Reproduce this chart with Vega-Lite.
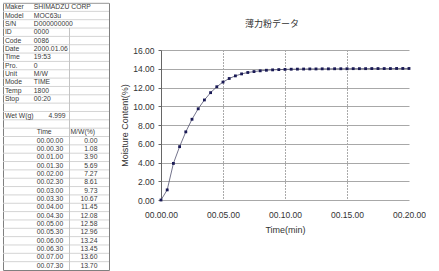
{
  "$schema": "https://vega.github.io/schema/vega-lite/v6.json",
  "background": "white",
  "padding": {"left": 2, "top": 2, "right": 0, "bottom": 0},
  "spacing": 10,
  "config": {"font": "Liberation Sans", "view": {"stroke": null}},
  "hconcat": [
    {
      "width": 106,
      "height": 267,
      "view": {"stroke": "#808080", "strokeWidth": 1},
      "data": {"values": [
        {"row": 1, "a": "Maker", "b": "SHIMADZU CORP"},
        {"row": 2, "a": "Model", "b": "MOC63u"},
        {"row": 3, "a": "S/N", "b": "D000000000"},
        {"row": 4, "a": "ID", "b": "0000"},
        {"row": 5, "a": "Code", "b": "0086"},
        {"row": 6, "a": "Date", "b": "2000.01.06"},
        {"row": 7, "a": "Time", "b": "19:53"},
        {"row": 8, "a": "Pro.", "b": "0"},
        {"row": 9, "a": "Unit", "b": "M/W"},
        {"row": 10, "a": "Mode", "b": "TIME"},
        {"row": 11, "a": "Temp", "b": "1800"},
        {"row": 12, "a": "Stop", "b": "00:20"},
        {"row": 13},
        {"row": 14, "a": "Wet W(g)", "w": "4.999"},
        {"row": 15},
        {"row": 16, "t": "Time", "h": "M/W(%)"},
        {"row": 17, "t": "00.00.00", "m": "0.00"},
        {"row": 18, "t": "00.00.30", "m": "1.08"},
        {"row": 19, "t": "00.01.00", "m": "3.90"},
        {"row": 20, "t": "00.01.30", "m": "5.69"},
        {"row": 21, "t": "00.02.00", "m": "7.27"},
        {"row": 22, "t": "00.02.30", "m": "8.61"},
        {"row": 23, "t": "00.03.00", "m": "9.73"},
        {"row": 24, "t": "00.03.30", "m": "10.67"},
        {"row": 25, "t": "00.04.00", "m": "11.45"},
        {"row": 26, "t": "00.04.30", "m": "12.08"},
        {"row": 27, "t": "00.05.00", "m": "12.58"},
        {"row": 28, "t": "00.05.30", "m": "12.96"},
        {"row": 29, "t": "00.06.00", "m": "13.24"},
        {"row": 30, "t": "00.06.30", "m": "13.45"},
        {"row": 31, "t": "00.07.00", "m": "13.60"},
        {"row": 32, "t": "00.07.30", "m": "13.70"}
      ]},
      "layer": [
        {
          "mark": {"type": "rule", "color": "#d4d4d4", "strokeWidth": 1},
          "encoding": {
            "y": {"field": "row", "type": "ordinal", "bandPosition": 0, "scale": {"type": "band", "domain": [1,2,3,4,5,6,7,8,9,10,11,12,13,14,15,16,17,18,19,20,21,22,23,24,25,26,27,28,29,30,31,32], "paddingInner": 0, "paddingOuter": 0}, "axis": null}
          }
        },
        {
          "transform": [{"filter": "datum.row >= 4"}],
          "mark": {"type": "rect", "stroke": "#c4c4c4", "strokeWidth": 1, "fill": null},
          "encoding": {
            "x": {"datum": 69, "type": "quantitative", "scale": {"domain": [0, 106]}, "axis": null},
            "x2": {"datum": 69},
            "y": {"field": "row", "type": "ordinal", "axis": null}
          }
        },
        {
          "transform": [{"filter": "datum.a"}],
          "mark": {"type": "text", "align": "left", "baseline": "middle", "fontSize": 6.8, "color": "#3a3a3a"},
          "encoding": {
            "x": {"datum": 2, "type": "quantitative"},
            "y": {"field": "row", "type": "ordinal", "axis": null},
            "text": {"field": "a"}
          }
        },
        {
          "transform": [{"filter": "datum.b"}],
          "mark": {"type": "text", "align": "left", "baseline": "middle", "fontSize": 6.8, "color": "#3a3a3a"},
          "encoding": {
            "x": {"datum": 32, "type": "quantitative"},
            "y": {"field": "row", "type": "ordinal", "axis": null},
            "text": {"field": "b"}
          }
        },
        {
          "transform": [{"filter": "datum.w"}],
          "mark": {"type": "text", "align": "right", "baseline": "middle", "fontSize": 6.8, "color": "#3a3a3a"},
          "encoding": {
            "x": {"datum": 65, "type": "quantitative"},
            "y": {"field": "row", "type": "ordinal", "axis": null},
            "text": {"field": "w"}
          }
        },
        {
          "transform": [{"filter": "datum.t"}],
          "mark": {"type": "text", "align": "left", "baseline": "middle", "fontSize": 6.8, "color": "#3a3a3a"},
          "encoding": {
            "x": {"datum": 35, "type": "quantitative"},
            "y": {"field": "row", "type": "ordinal", "axis": null},
            "text": {"field": "t"}
          }
        },
        {
          "transform": [{"filter": "datum.h"}],
          "mark": {"type": "text", "align": "left", "baseline": "middle", "fontSize": 6.8, "color": "#3a3a3a"},
          "encoding": {
            "x": {"datum": 70, "type": "quantitative"},
            "y": {"field": "row", "type": "ordinal", "axis": null},
            "text": {"field": "h"}
          }
        },
        {
          "transform": [{"filter": "datum.m"}],
          "mark": {"type": "text", "align": "right", "baseline": "middle", "fontSize": 6.8, "color": "#3a3a3a"},
          "encoding": {
            "x": {"datum": 98, "type": "quantitative"},
            "y": {"field": "row", "type": "ordinal", "axis": null},
            "text": {"field": "m"}
          }
        }
      ]
    },
    {
      "spacing": 1,
      "bounds": "flush",
      "vconcat": [
        {
          "width": 248,
          "height": 46,
          "view": {"stroke": null},
          "data": {"values": [{"title": "薄力粉データ"}]},
          "mark": {"type": "text", "font": "Noto Sans CJK JP", "fontSize": 9, "color": "#333", "dx": -13, "dy": -2, "baseline": "middle", "align": "center"},
          "encoding": {"text": {"field": "title"}}
        },
        {
          "width": 248,
          "height": 150,
          "view": {"stroke": null},
          "data": {"values": [
            {"min": 0, "mc": 0.00}, {"min": 0.5, "mc": 1.08}, {"min": 1, "mc": 3.90}, {"min": 1.5, "mc": 5.69},
            {"min": 2, "mc": 7.27}, {"min": 2.5, "mc": 8.61}, {"min": 3, "mc": 9.73}, {"min": 3.5, "mc": 10.67},
            {"min": 4, "mc": 11.45}, {"min": 4.5, "mc": 12.08}, {"min": 5, "mc": 12.58}, {"min": 5.5, "mc": 12.96},
            {"min": 6, "mc": 13.24}, {"min": 6.5, "mc": 13.45}, {"min": 7, "mc": 13.60}, {"min": 7.5, "mc": 13.70},
            {"min": 8, "mc": 13.78}, {"min": 8.5, "mc": 13.84}, {"min": 9, "mc": 13.88}, {"min": 9.5, "mc": 13.91},
            {"min": 10, "mc": 13.93}, {"min": 10.5, "mc": 13.95}, {"min": 11, "mc": 13.96}, {"min": 11.5, "mc": 13.97},
            {"min": 12, "mc": 13.98}, {"min": 12.5, "mc": 13.98}, {"min": 13, "mc": 13.99}, {"min": 13.5, "mc": 13.99},
            {"min": 14, "mc": 14.00}, {"min": 14.5, "mc": 14.00}, {"min": 15, "mc": 14.00}, {"min": 15.5, "mc": 14.01},
            {"min": 16, "mc": 14.01}, {"min": 16.5, "mc": 14.01}, {"min": 17, "mc": 14.02}, {"min": 17.5, "mc": 14.02},
            {"min": 18, "mc": 14.02}, {"min": 18.5, "mc": 14.02}, {"min": 19, "mc": 14.03}, {"min": 19.5, "mc": 14.03},
            {"min": 20, "mc": 14.03}
          ]},
          "encoding": {
            "x": {
              "field": "min", "type": "quantitative",
              "scale": {"domain": [0, 20], "nice": false},
              "axis": {
                "title": "Time(min)", "values": [0, 5, 10, 15, 20],
                "labelExpr": "'00.' + (datum.value < 10 ? '0' : '') + datum.value + '.00'",
                "domain": false, "ticks": false, "labelPadding": 10, "titlePadding": 6.5,
                "labelFlush": false, "labelOverlap": false,
                "grid": true, "gridDash": [1, 2],
                "gridColor": {"condition": {"test": "datum.value == 0 || datum.value == 20", "value": "transparent"}, "value": "#555"},
                "labelFontSize": 8.5, "labelColor": "#333", "titleFontSize": 9, "titleFontWeight": "normal", "titleColor": "#333"
              }
            },
            "y": {
              "field": "mc", "type": "quantitative",
              "scale": {"domain": [0, 16], "nice": false},
              "axis": {
                "title": "Moisture Content(%)", "values": [0, 2, 4, 6, 8, 10, 12, 14, 16], "format": ".2f",
                "domainColor": "#666", "tickColor": "#666", "tickSize": 3, "labelPadding": 4, "titlePadding": 3,
                "grid": true, "gridColor": "#a8a8a8",
                "labelFontSize": 8.5, "labelColor": "#333", "titleFontSize": 9, "titleFontWeight": "normal", "titleColor": "#333"
              }
            }
          },
          "layer": [
            {"mark": {"type": "line", "color": "#50506e", "strokeWidth": 0.8}},
            {"mark": {"type": "point", "shape": "square", "filled": true, "size": 8, "color": "#1a1a55", "opacity": 1}}
          ]
        }
      ]
    }
  ]
}
